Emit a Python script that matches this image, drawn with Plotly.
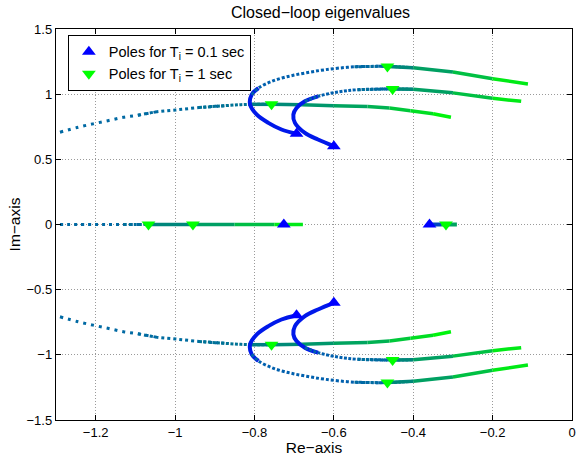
import plotly.graph_objects as go

# ---------------- data ----------------
# upper-half loci (lower half are the complex conjugates)
curveA_x = [-1.290, -1.247, -1.207, -1.167, -1.130, -1.094, -1.048, -0.998, -0.940, -0.873,
            -0.815, -0.757, -0.680, -0.600, -0.515, -0.460, -0.407, -0.350, -0.305]
curveA_y = [0.708, 0.744, 0.772, 0.798, 0.823, 0.838, 0.864, 0.879, 0.897, 0.912,
            0.922, 0.922, 0.918, 0.912, 0.905, 0.893, 0.872, 0.850, 0.823]

curveB_x = [-0.694, -0.732, -0.765, -0.794, -0.811, -0.807, -0.790, -0.757, -0.715, -0.673,
            -0.623, -0.548, -0.465, -0.400, -0.300, -0.200, -0.111]
curveB_y = [0.696, 0.729, 0.780, 0.843, 0.920, 0.996, 1.047, 1.098, 1.136, 1.162,
            1.187, 1.210, 1.213, 1.203, 1.170, 1.118, 1.078]

curveC_x = [-0.600, -0.640, -0.673, -0.698, -0.702, -0.694, -0.673, -0.640, -0.590, -0.540,
            -0.452, -0.400, -0.300, -0.200, -0.128]
curveC_y = [0.601, 0.652, 0.703, 0.780, 0.843, 0.894, 0.945, 0.983, 1.017, 1.034,
            1.040, 1.038, 1.010, 0.968, 0.945]

# real-axis loci
realA_x = [-1.290, -1.200, -1.130, -1.067, -0.955, -0.850, -0.750, -0.678]
realB_x = [-0.359, -0.330, -0.290]

# pole markers
poles_ti01_x = [-0.694, -0.600, -0.726, -0.359]
poles_ti01_y = [0.696, 0.601, 0.0, 0.0]
poles_ti1_x = [-0.757, -0.465, -0.452, -1.067, -0.955, -0.3175]
poles_ti1_y = [0.922, 1.213, 1.040, 0.0, 0.0, 0.0]

x_ticks = [-1.2, -1.0, -0.8, -0.6, -0.4, -0.2, 0.0]
y_ticks = [-1.5, -1.0, -0.5, 0.0, 0.5, 1.0, 1.5]

# ---------------- styles ----------------
STOPS = [(0.0, (0, 0, 255)), (0.15, (0, 45, 215)), (0.32, (0, 90, 180)),
         (0.45, (0, 108, 160)), (0.6, (0, 128, 128)), (0.8, (0, 175, 85)),
         (1.0, (0, 255, 0))]


def color(t):
    t = max(0.0, min(1.0, t))
    for (t0, c0), (t1, c1) in zip(STOPS[:-1], STOPS[1:]):
        if t <= t1:
            f = (t - t0) / (t1 - t0) if t1 > t0 else 0
            c = [round(a + (b - a) * f) for a, b in zip(c0, c1)]
            return "rgb(%d,%d,%d)" % tuple(c)
    return "rgb(0,255,0)"


# (first index, last index, dash, width, t_start, t_end, one-piece?)
styleA = [(0, 6, "3px,5px", 3, 0.43, 0.43, True), (5, 9, "3px,3px", 3, 0.45, 0.45, True),
          (8, 11, "3px,1.5px", 3, 0.5, 0.5, True), (10, 18, "solid", 3.5, 0.56, 1.0, False)]
styleB = [(0, 6, "solid", 4, 0.08, 0.08, True), (5, 12, "3px,2px", 3, 0.36, 0.36, True),
          (11, 13, "3px,1px", 3, 0.45, 0.45, True), (12, 16, "solid", 3.5, 0.58, 1.0, False)]
styleC = [(0, 7, "solid", 4, 0.08, 0.08, True), (6, 10, "3px,1.5px", 3, 0.36, 0.36, True),
          (9, 11, "3px,1px", 3, 0.47, 0.47, True), (10, 14, "solid", 3.5, 0.58, 1.0, False)]
styleRA = [(0, 3, "3px,4px", 3, 0.43, 0.43, True), (2, 4, "3px,2px", 3, 0.48, 0.48, True),
           (3, 7, "solid", 3.5, 0.57, 1.0, False)]
styleRB = [(0, 2, "solid", 4, 0.0, 1.0, False)]

fig = go.Figure()


def add_curve(xs, ys, style):
    for (i0, i1, dash, w, t0, t1, one) in style:
        if one:
            fig.add_trace(go.Scatter(
                x=xs[i0:i1 + 1], y=ys[i0:i1 + 1], mode="lines",
                line=dict(color=color(t0), width=w, dash=dash, shape="spline", smoothing=1.0),
                showlegend=False, hoverinfo="skip"))
            continue
        n = i1 - i0
        for k in range(n):
            i = i0 + k
            t = t0 + (t1 - t0) * (k + 0.5) / n
            fig.add_trace(go.Scatter(
                x=[xs[i], xs[i + 1]], y=[ys[i], ys[i + 1]], mode="lines",
                line=dict(color=color(t), width=w, dash=dash),
                showlegend=False, hoverinfo="skip"))


for sign in (1, -1):
    add_curve(curveA_x, [sign * v for v in curveA_y], styleA)
for sign in (1, -1):
    add_curve(curveB_x, [sign * v for v in curveB_y], styleB)
    add_curve(curveC_x, [sign * v for v in curveC_y], styleC)
add_curve(realA_x, [0.0] * len(realA_x), styleRA)
add_curve(realB_x, [0.0] * len(realB_x), styleRB)

# markers (with conjugates)
bx = poles_ti01_x + [x for x, y in zip(poles_ti01_x, poles_ti01_y) if y != 0]
by = poles_ti01_y + [-y for y in poles_ti01_y if y != 0]
gx = poles_ti1_x + [x for x, y in zip(poles_ti1_x, poles_ti1_y) if y != 0]
gy = poles_ti1_y + [-y for y in poles_ti1_y if y != 0]

fig.add_trace(go.Scatter(x=bx, y=by, mode="markers", name="Poles for T<sub>i</sub> = 0.1 sec",
                         marker=dict(symbol="triangle-up", size=12, color="#0000ff",
                                     line=dict(width=0))))
fig.add_trace(go.Scatter(x=gx, y=gy, mode="markers", name="Poles for T<sub>i</sub> = 1 sec",
                         marker=dict(symbol="triangle-down", size=12, color="#00ff00",
                                     line=dict(width=0))))

FONT = "Liberation Sans, Arial, Helvetica, sans-serif"
axis_common = dict(showline=True, linecolor="black", linewidth=1.4, mirror="ticks",
                   ticks="inside", ticklen=5, tickcolor="black", tickwidth=1,
                   showgrid=True, gridcolor="#9a9a9a", griddash="1px,2px", gridwidth=1,
                   zeroline=False, tickfont=dict(family=FONT, size=13, color="black"))


def fmt(v):
    return ("\u2212%g" % abs(v)) if v < 0 else "%g" % v


fig.update_layout(
    width=581, height=456,
    margin=dict(l=56, r=5, t=29, b=34),
    paper_bgcolor="white", plot_bgcolor="white",
    font=dict(family=FONT, size=13, color="black"),
    title=dict(text="Closed\u2212loop eigenvalues", x=320.5 / 581, xanchor="center",
               y=1 - 12 / 456, yanchor="middle", yref="container",
               font=dict(family=FONT, size=16, color="black")),
    xaxis=dict(range=[-1.3, 0], tickvals=x_ticks, ticktext=[fmt(v) for v in x_ticks],
               title=dict(text="Re\u2212axis", font=dict(family=FONT, size=15.5), standoff=0),
               **axis_common),
    yaxis=dict(range=[-1.5, 1.5], tickvals=y_ticks, ticktext=[fmt(v) for v in y_ticks],
               title=dict(text="Im\u2212axis", font=dict(family=FONT, size=15.5), standoff=2),
               **axis_common),
    legend=dict(x=0.023, y=0.985, xanchor="left", yanchor="top",
                bgcolor="white", bordercolor="black", borderwidth=1,
                font=dict(family=FONT, size=14.5, color="black"),
                itemwidth=30),
    showlegend=True,
)

fig.write_html("out.html")
